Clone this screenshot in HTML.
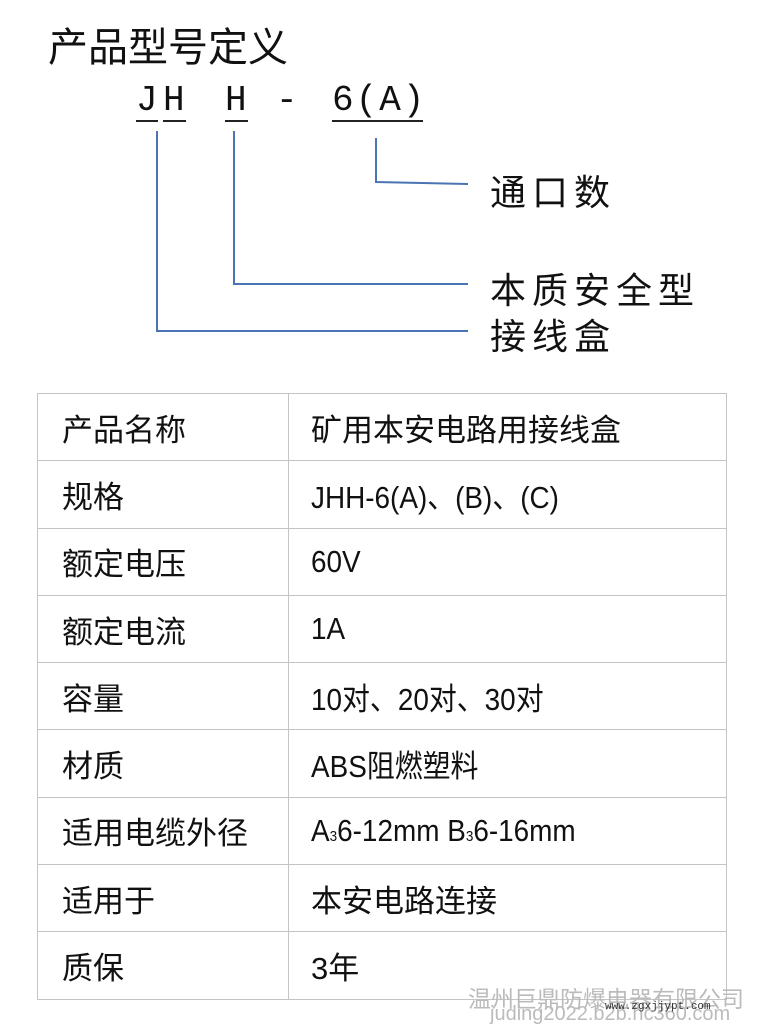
<!DOCTYPE html>
<html><head><meta charset="utf-8"><style>
body{margin:0;width:760px;height:1028px;background:#fff;position:relative;overflow:hidden;font-family:"Liberation Sans","Noto Sans CJK SC",sans-serif;color:#111}
.a{position:absolute;white-space:nowrap}
.m{font-family:'Liberation Mono',monospace;font-size:36px;top:80px}
table{position:absolute;left:37px;top:393px;border-collapse:collapse;width:690px}
td{border:1.5px solid #c4c4c4;height:66.3px;padding:0;font-size:31px;vertical-align:middle}
td:first-child{width:226px;padding-left:24px}
td:last-child{padding-left:22px}
.n{display:inline-block;transform:scaleX(0.9);transform-origin:left}
</style></head><body>
<div class="a" style="left:48px;top:15px;font-size:40px">产品型号定义</div>
<div class="a m" style="left:136px">J</div>
<div class="a m" style="left:163px">H</div>
<div class="a m" style="left:225px">H</div>
<div class="a m" style="left:276px">-</div>
<div class="a m" style="left:332px;letter-spacing:2px">6(A)</div>
<svg class="a" style="left:0;top:0" width="760" height="400">
<g stroke="#222" stroke-width="2"><line x1="136" y1="121" x2="158" y2="121"/><line x1="163" y1="121" x2="186" y2="121"/><line x1="225" y1="121" x2="248" y2="121"/><line x1="332" y1="121" x2="423" y2="121"/></g>
<g stroke="#4a74b4" stroke-width="2" fill="none">
<polyline points="157,131 157,331 468,331"/>
<polyline points="234,131 234,284 468,284"/>
<polyline points="376,138 376,182 468,184"/>
</g></svg>
<div class="a" style="left:490px;top:164px;font-size:36px;letter-spacing:6px">通口数</div>
<div class="a" style="left:490px;top:262px;font-size:36px;letter-spacing:6px">本质安全型</div>
<div class="a" style="left:490px;top:308px;font-size:36px;letter-spacing:6px">接线盒</div>
<table>
<tr><td>产品名称</td><td>矿用本安电路用接线盒</td></tr>
<tr><td>规格</td><td><span class="n">JHH-6(A)、(B)、(C)</span></td></tr>
<tr><td>额定电压</td><td><span class="n">60V</span></td></tr>
<tr><td>额定电流</td><td><span class="n">1A</span></td></tr>
<tr><td>容量</td><td><span class="n">10对、20对、30对</span></td></tr>
<tr><td>材质</td><td><span class="n">ABS阻燃塑料</span></td></tr>
<tr><td>适用电缆外径</td><td><span class="n">A<span style="font-size:15px">3</span>6-12mm B<span style="font-size:15px">3</span>6-16mm</span></td></tr>
<tr><td>适用于</td><td>本安电路连接</td></tr>
<tr><td>质保</td><td>3年</td></tr>
</table>
<div class="a" style="left:468px;top:980px;font-size:23px;color:#bbb">温州巨鼎防爆电器有限公司</div>
<div class="a" style="left:490px;top:1003px;font-size:20px;color:#bbb">juding2022.b2b.hc360.com</div>
<div class="a" style="left:605px;top:1001px;font-size:11px;color:#333;font-family:'Liberation Mono',monospace">www.zgxjjypt.com</div>
</body></html>
